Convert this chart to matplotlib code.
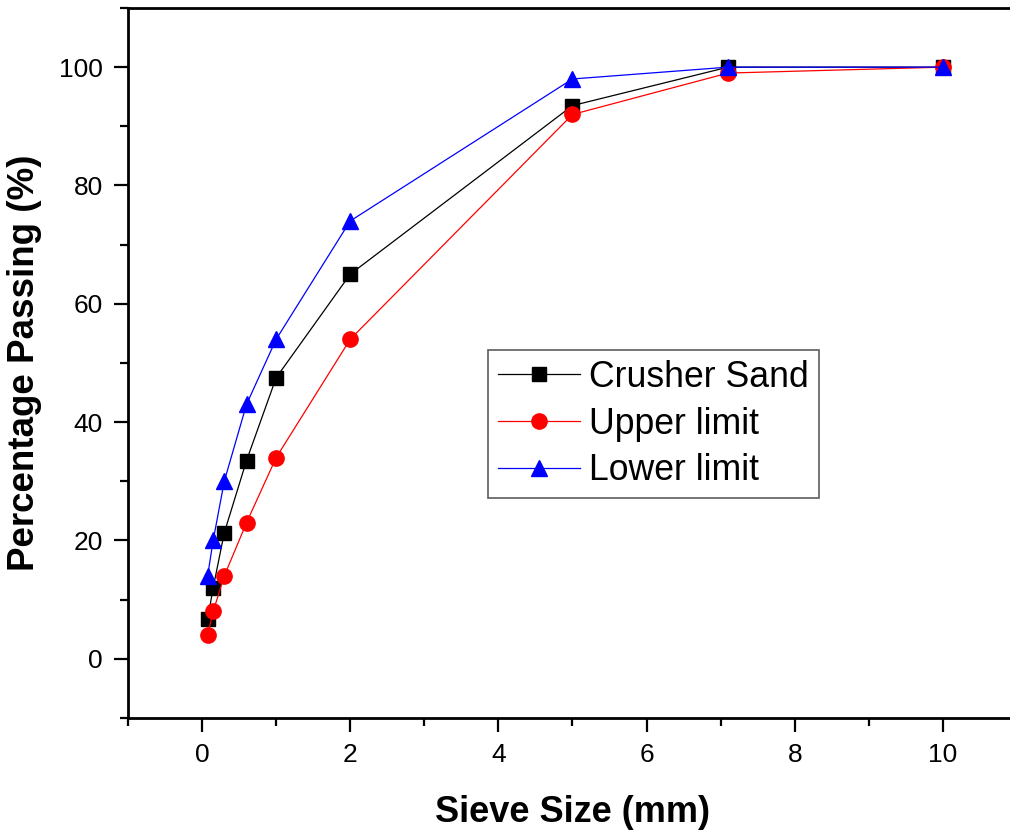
import matplotlib
matplotlib.use("Agg")
import matplotlib.pyplot as plt
from matplotlib.ticker import MultipleLocator

plt.rcParams["font.family"] = ["Liberation Sans", "DejaVu Sans"]

# sieve sizes (mm) and percentage passing
sieve_mm = [0.075, 0.15, 0.3, 0.6, 1.0, 2.0, 5.0, 7.1, 10.0]
crusher_sand = [6.7, 12.0, 21.3, 33.5, 47.5, 65.0, 93.5, 100.0, 100.0]
upper_limit = [4.0, 8.0, 14.0, 23.0, 34.0, 54.0, 92.0, 99.0, 100.0]
lower_limit = [14.0, 20.0, 30.0, 43.0, 54.0, 74.0, 98.0, 100.0, 100.0]

x_ticks = [0, 2, 4, 6, 8, 10]
y_ticks = [0, 20, 40, 60, 80, 100]


def main() -> None:
    fig = plt.figure(figsize=(10.1, 8.31), dpi=100)
    # right spine sits just outside the canvas in the reference
    ax = fig.add_axes([0.1267, 0.136, 0.8802, 0.8544])

    ax.plot(sieve_mm, crusher_sand, color="black", lw=0.9, marker="s", ms=10,
            label="Crusher Sand")
    ax.plot(sieve_mm, upper_limit, color="red", lw=0.9, marker="o", ms=11,
            label="Upper limit")
    ax.plot(sieve_mm, lower_limit, color="blue", lw=0.9, marker="^", ms=12,
            label="Lower limit")

    ax.set_xlim(-1, 11)
    ax.set_ylim(-10, 110)
    ax.set_xticks(x_ticks)
    ax.set_yticks(y_ticks)
    ax.xaxis.set_minor_locator(MultipleLocator(1))
    ax.yaxis.set_minor_locator(MultipleLocator(10))
    ax.tick_params(which="major", direction="out", length=10, width=1.6,
                   labelsize=19, pad=8)
    ax.tick_params(which="minor", direction="out", length=6, width=1.6)
    for sp in ax.spines.values():
        sp.set_linewidth(2)

    ax.set_xlabel("Sieve Size (mm)", fontsize=26, fontweight="bold", labelpad=20)
    ax.set_ylabel("Percentage Passing (%)", fontsize=26.5, fontweight="bold", labelpad=12)

    leg = ax.legend(loc="upper left", bbox_to_anchor=(0.483, 0.579),
                    bbox_transform=fig.transFigure, fontsize=25.7, frameon=True,
                    fancybox=False, edgecolor="#333333", handlelength=2.3,
                    handletextpad=0.25, labelspacing=0.33, borderpad=0.28,
                    borderaxespad=0)
    leg.get_frame().set_linewidth(1.2)

    fig.savefig("out.png", dpi=100)
    plt.close(fig)


if __name__ == "__main__":
    main()
